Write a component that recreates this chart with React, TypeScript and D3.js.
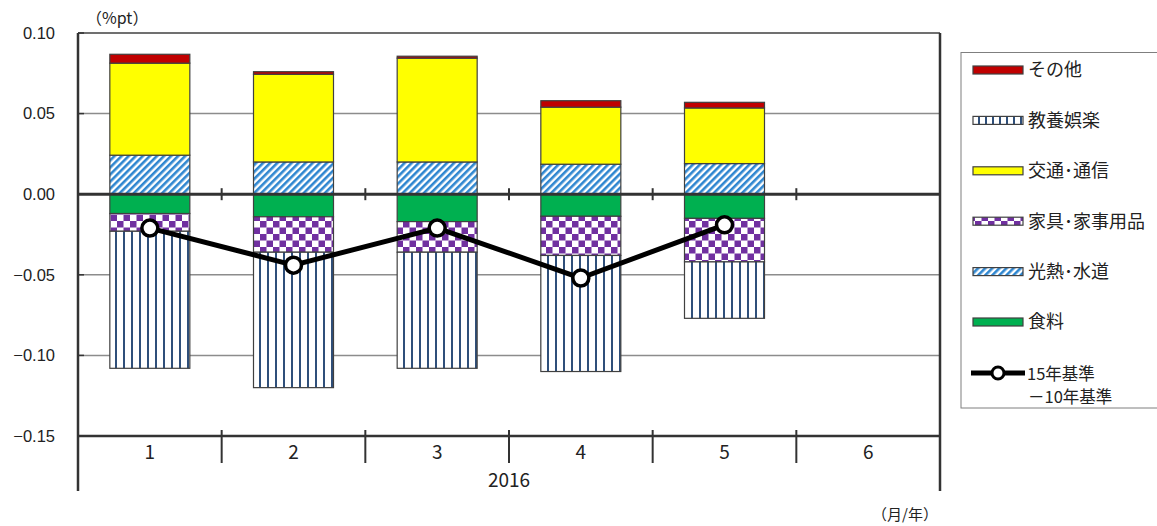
import React from "react";
import * as d3 from "d3";

const months = ["1", "2", "3", "4", "5", "6"];
const yearLabel = "2016";
// Components (%pt)
const food = [-0.012, -0.014, -0.017, -0.0137, -0.015, null];
const utilities = [0.0242, 0.020, 0.020, 0.0186, 0.019, null];
const furniture = [-0.011, -0.022, -0.019, -0.0243, -0.027, null];
const transport = [0.0571, 0.0544, 0.0644, 0.0354, 0.0345, null];
const culture = [-0.085, -0.084, -0.072, -0.072, -0.035, null];
const other = [0.0055, 0.0016, 0.0012, 0.0040, 0.0035, null];
const diffLine = [-0.021, -0.044, -0.021, -0.052, -0.019, null];
const yTicks = [0.1, 0.05, 0, -0.05, -0.1, -0.15];

const W = 1157, H = 526;
const L = 78, R = 940, T = 33, B = 436;

type Seri = { name: string; values: (number | null)[]; fill: string };
const series: Seri[] = [
  { name: "食料", values: food, fill: "#00b050" },
  { name: "光熱･水道", values: utilities, fill: "url(#pHatch)" },
  { name: "家具･家事用品", values: furniture, fill: "url(#pCheck)" },
  { name: "交通･通信", values: transport, fill: "#ffff00" },
  { name: "教養娯楽", values: culture, fill: "url(#pVert)" },
  { name: "その他", values: other, fill: "#c00000" },
];
const legendOrder = ["その他", "教養娯楽", "交通･通信", "家具･家事用品", "光熱･水道", "食料"];

export default function App() {
  const x = d3.scaleBand().domain(months).range([L, R]).paddingInner(0).paddingOuter(0);
  const y = d3.scaleLinear().domain([-0.15, 0.1]).range([B, T]);
  const bw = 80;
  const font = "'Noto Sans CJK JP', 'Noto Sans', sans-serif";

  const rects: JSX.Element[] = [];
  months.forEach((m, i) => {
    let pos = 0, neg = 0;
    const cx = (x(m) as number) + x.bandwidth() / 2;
    series.forEach((s, si) => {
      const v = s.values[i];
      if (v == null) return;
      let y0, y1;
      if (v >= 0) { y0 = pos; y1 = pos + v; pos = y1; }
      else { y0 = neg; y1 = neg + v; neg = y1; }
      const top = y(Math.max(y0, y1)), bot = y(Math.min(y0, y1));
      rects.push(
        <rect key={`${i}-${si}`} x={cx - bw / 2} y={top} width={bw} height={bot - top}
          fill={s.fill} stroke="#404040" strokeWidth={1.2} />
      );
    });
  });

  const linePts = months.map((m, i) => ({ x: (x(m) as number) + x.bandwidth() / 2, v: diffLine[i] }))
    .filter(d => d.v != null) as { x: number; v: number }[];
  const lineGen = d3.line<{ x: number; v: number }>().x(d => d.x).y(d => y(d.v));

  const legendFill = (name: string) => series.find(s => s.name === name)!.fill;

  return (
    <svg width={W} height={H} style={{ position: "absolute", left: 0, top: 0, background: "#fff" }}>
      <defs>
        <pattern id="pHatch" patternUnits="userSpaceOnUse" width="5" height="5" patternTransform="rotate(45)">
          <rect width="5" height="5" fill="#fff" />
          <rect width="2.6" height="5" fill="#2e86d0" />
        </pattern>
        <pattern id="pCheck" patternUnits="userSpaceOnUse" width="13" height="13">
          <rect width="13" height="13" fill="#fff" />
          <rect width="6.5" height="6.5" fill="#7030a0" />
          <rect x="6.5" y="6.5" width="6.5" height="6.5" fill="#7030a0" />
        </pattern>
        <pattern id="pVert" patternUnits="userSpaceOnUse" width="8" height="8">
          <rect width="8" height="8" fill="#fff" />
          <rect x="3" width="2" height="8" fill="#2f4f7a" />
        </pattern>
        <pattern id="pVertL" patternUnits="userSpaceOnUse" width="7" height="8" x="2">
          <rect width="7" height="8" fill="#fff" />
          <rect x="3" width="2" height="8" fill="#2f4f7a" />
        </pattern>
      </defs>

      {/* gridlines */}
      {yTicks.filter(t => t !== 0 && t !== 0.1 && t !== -0.15).map(t => (
        <line key={t} x1={L} x2={R} y1={y(t)} y2={y(t)} stroke="#8c8c8c" strokeWidth={1.5} />
      ))}
      {/* plot frame */}
      <line x1={L} x2={R} y1={T} y2={T} stroke="#404040" strokeWidth={1.5} />
      <line x1={R} x2={R} y1={T} y2={491} stroke="#333" strokeWidth={2.5} />
      <line x1={L} x2={L} y1={T} y2={491} stroke="#333" strokeWidth={2.5} />
      <line x1={L} x2={R} y1={B} y2={B} stroke="#333" strokeWidth={2.5} />

      {rects}

      {/* zero line */}
      <line x1={L} x2={R} y1={y(0)} y2={y(0)} stroke="#333" strokeWidth={3} />
      {months.slice(1).map(m => (
        <line key={m} x1={x(m)} x2={x(m)} y1={y(0) - 6} y2={y(0) + 6} stroke="#333" strokeWidth={2} />
      ))}
      {/* y ticks */}
      {yTicks.map(t => (
        <g key={t}>
          <line x1={L} x2={L + 6} y1={y(t)} y2={y(t)} stroke="#333" strokeWidth={1.5} />
          <text x={55} y={y(t)} dy="0.35em" textAnchor="end" fontSize={16.5}
            fontFamily="'Liberation Sans', Arial, sans-serif" fill="#222">
            {t === 0 ? "0.00" : (t < 0 ? "−" : "") + d3.format(".2f")(Math.abs(t))}
          </text>
        </g>
      ))}
      {/* x category separators */}
      {months.slice(1).map(m => (
        <line key={m} x1={x(m)} x2={x(m)} y1={B - 6} y2={B + 27} stroke="#333" strokeWidth={2} />
      ))}
      {months.map(m => (
        <text key={m} x={(x(m) as number) + x.bandwidth() / 2} y={452} dy="0.35em" textAnchor="middle"
          fontSize={19} fontFamily={font} fill="#222">{m}</text>
      ))}
      <text x={(L + R) / 2} y={480} dy="0.35em" textAnchor="middle" fontSize={19} fontFamily={font} fill="#222">{yearLabel}</text>

      {/* line */}
      <path d={lineGen(linePts) || ""} fill="none" stroke="#000" strokeWidth={5} strokeLinejoin="round" />
      {linePts.map((d, i) => (
        <circle key={i} cx={d.x} cy={y(d.v)} r={8} fill="#fff" stroke="#000" strokeWidth={3.5} />
      ))}

      {/* labels */}
      <text x={86} y={18} dy="0.35em" fontSize={16} fontFamily={font} fill="#222">（%pt）</text>
      <text x={872} y={515} dy="0.35em" fontSize={15} fontFamily={font} fill="#222">（月/年）</text>

      {/* legend */}
      <rect x={961} y={52.5} width={210} height={355.5} fill="#fff" stroke="#7f7f7f" strokeWidth={1} />
      {legendOrder.map((name, i) => {
        const ly = 70 + i * 50.4;
        return (
          <g key={name}>
            <rect x={973} y={ly - 4} width={50} height={8} fill={name === "教養娯楽" ? "url(#pVertL)" : legendFill(name)}
              stroke="#404040" strokeWidth={1.2} />
            <text x={1028} y={ly} dy="0.35em" fontSize={18} fontFamily={font} fill="#222">{name}</text>
          </g>
        );
      })}
      <line x1={971} x2={1025} y1={373} y2={373} stroke="#000" strokeWidth={5} />
      <circle cx={998} cy={373} r={6} fill="#fff" stroke="#000" strokeWidth={3} />
      <text x={1027} y={374} dy="0.35em" fontSize={16.5} fontFamily={font} fill="#222">15年基準</text>
      <text x={1028} y={397} dy="0.35em" fontSize={16.5} fontFamily={font} fill="#222">－10年基準</text>
    </svg>
  );
}
